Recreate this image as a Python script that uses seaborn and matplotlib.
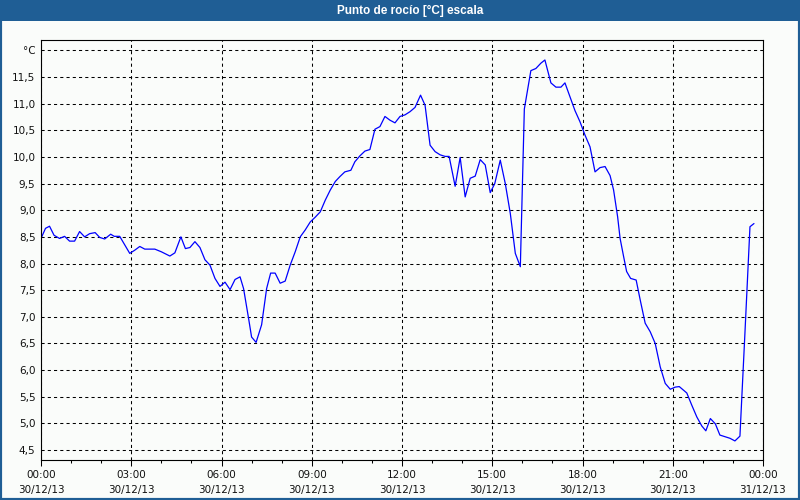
import numpy as np
import pandas as pd
import matplotlib
matplotlib.use("Agg")
import matplotlib.pyplot as plt
import seaborn as sns
from matplotlib.patches import Rectangle
from matplotlib.ticker import MultipleLocator

# ---------------- data ----------------
minutes = [0, 9, 17, 26, 37, 47, 57, 67, 77, 87, 97, 108, 117, 127, 139, 146, 157,
           177, 187, 197, 207, 227, 240, 257, 267, 279, 288,
           297, 307, 317, 327, 337, 347, 357, 367, 377, 387, 397, 404, 414, 420, 429,
           440, 450, 458, 467, 477, 487, 497, 507, 517, 527, 537, 547, 557,
           567, 577, 587, 596, 606, 618, 626, 636, 646, 656, 666, 676, 686, 696, 706,
           716, 726, 736, 746, 757, 766, 776, 786, 796, 806, 814, 826, 836, 846,
           856, 866, 876, 886, 896, 905, 916, 926, 936, 946, 956, 964, 977, 987,
           997, 1005, 1017, 1027, 1037, 1045, 1055, 1065, 1075, 1085, 1095, 1105,
           1115, 1125, 1135, 1142, 1150, 1155, 1162, 1168, 1176, 1187, 1195, 1205,
           1215, 1225, 1235, 1245, 1255, 1265, 1273, 1288, 1298, 1308, 1318, 1326,
           1335, 1345, 1354, 1364, 1374, 1384, 1394, 1404, 1414, 1422]
dew_point = [8.47, 8.66, 8.70, 8.53, 8.47, 8.51, 8.42, 8.42, 8.60, 8.50, 8.56, 8.58, 8.49, 8.46, 8.55, 8.51, 8.51,
             8.19, 8.25, 8.32, 8.27, 8.27, 8.22, 8.14, 8.20, 8.50, 8.28,
             8.30, 8.41, 8.30, 8.07, 7.97, 7.72, 7.57, 7.65, 7.51, 7.70, 7.75, 7.53, 6.97, 6.62, 6.52,
             6.85, 7.53, 7.82, 7.82, 7.63, 7.67, 7.97, 8.22, 8.50, 8.63, 8.78, 8.87, 8.97,
             9.19, 9.38, 9.54, 9.63, 9.72, 9.75, 9.91, 10.02, 10.11, 10.14, 10.52, 10.57, 10.76, 10.69, 10.64,
             10.76, 10.79, 10.85, 10.93, 11.16, 10.97, 10.22, 10.10, 10.04, 10.01, 10.01, 9.45, 9.99, 9.25,
             9.60, 9.64, 9.95, 9.85, 9.33, 9.50, 9.94, 9.50, 8.94, 8.19, 7.94, 10.90, 11.62, 11.66,
             11.76, 11.82, 11.39, 11.31, 11.31, 11.39, 11.13, 10.87, 10.66, 10.41, 10.19, 9.72,
             9.80, 9.82, 9.65, 9.38, 8.88, 8.47, 8.13, 7.85, 7.72, 7.69, 7.32, 6.88,
             6.72, 6.50, 6.06, 5.75, 5.64, 5.68, 5.69, 5.57, 5.34, 5.12, 4.95, 4.86,
             5.09, 4.99, 4.78, 4.75, 4.72, 4.67, 4.76, 6.70, 8.69, 8.75]

x_tick_hours = [0, 3, 6, 9, 12, 15, 18, 21, 24]
x_tick_labels = ["00:00\n30/12/13", "03:00\n30/12/13", "06:00\n30/12/13", "09:00\n30/12/13",
                 "12:00\n30/12/13", "15:00\n30/12/13", "18:00\n30/12/13", "21:00\n30/12/13",
                 "00:00\n31/12/13"]
y_ticks = [4.5, 5.0, 5.5, 6.0, 6.5, 7.0, 7.5, 8.0, 8.5, 9.0, 9.5, 10.0, 10.5, 11.0, 11.5, 12.0]
y_tick_labels = ["4,5", "5,0", "5,5", "6,0", "6,5", "7,0", "7,5", "8,0", "8,5", "9,0",
                 "9,5", "10,0", "10,5", "11,0", "11,5", "°C"]
title = "Punto de rocío [°C] escala"

# ---------------- styling ----------------
BG = "#FAFCFA"
BLUE = "#1F5E95"

sns.set_theme(style="white")
plt.rcParams["font.family"] = ["DejaVu Sans"]

fig = plt.figure(figsize=(8, 5), dpi=100, facecolor=BG)
ax = fig.add_axes([41 / 800, 40 / 500, 722 / 800, 420 / 500], facecolor=BG)

df = pd.DataFrame({"hour": np.array(minutes) / 60.0, "value": dew_point})
sns.lineplot(data=df, x="hour", y="value", ax=ax, color="#0000FF", linewidth=0.9,
             estimator=None, sort=False)

ax.set_xlim(0, 24)
ax.set_ylim(4.312, 12.195)
ax.set_xlabel("")
ax.set_ylabel("")

ax.set_xticks(x_tick_hours)
ax.set_xticklabels(x_tick_labels, fontsize=7.5, linespacing=1.65, color="#111111")
ax.xaxis.set_minor_locator(MultipleLocator(1))
ax.tick_params(axis="x", which="major", direction="out", length=4, width=0.75,
               color="black", pad=3, bottom=True, top=False)
ax.tick_params(axis="x", which="minor", direction="out", length=2.2, width=0.75,
               color="black", bottom=True, top=False)

ax.set_yticks(y_ticks)
ax.set_yticklabels(y_tick_labels, fontsize=7.5, color="#111111")
ax.tick_params(axis="y", which="both", length=0, pad=4, left=True)

ax.grid(True, which="major", color="black", linestyle=(0, (3, 3)), linewidth=0.75)
ax.grid(False, which="minor")

for s in ax.spines.values():
    s.set_visible(True)
    s.set_color("black")
    s.set_linewidth(0.8)

# title bar and frame
fig.patches.append(Rectangle((0, 1 - 21 / 500), 1, 21 / 500, transform=fig.transFigure,
                             facecolor=BLUE, edgecolor="none", zorder=0))
fig.patches.append(Rectangle((0, 0), 1, 1, transform=fig.transFigure, fill=False,
                             edgecolor=BLUE, linewidth=3, zorder=5))
fig.text(410 / 800, 1 - 10.5 / 500, title, ha="center", va="center", color="white",
         fontsize=8.5, fontweight="bold", family=["Liberation Sans", "DejaVu Sans"])

fig.savefig("out.png", dpi=100, facecolor=BG)
